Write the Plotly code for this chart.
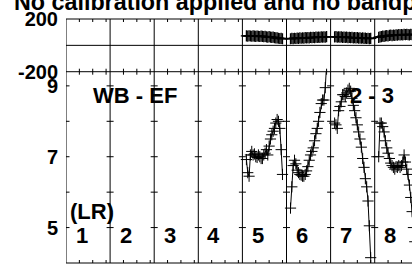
import plotly.graph_objects as go

# ---------------- data ----------------
channels = list(range(3, 31))          # channels plotted in each IF
n_chan_span = 33                        # channel span of one IF panel
if_labels = ["1", "2", "3", "4", "5", "6", "7", "8"]

amp_if5 = [6.92, 6.55, 6.45, 7.05, 7.15, 7.05, 7.08, 7.00, 6.98, 7.05, 7.00, 6.95, 6.95, 7.05,
           7.10, 7.20, 7.05, 7.30, 7.50, 7.62, 7.72, 7.80, 7.95, 8.05, 8.00, 7.80, 7.20, 6.50]
amp_if6 = [5.55, 6.15, 6.75, 6.90, 6.80, 6.62, 6.55, 6.50, 6.48, 6.45, 6.45, 6.50, 6.60, 6.72,
           6.90, 7.05, 7.15, 7.25, 7.45, 7.65, 7.80, 8.00, 8.25, 8.50, 8.60, 8.60, 8.95, 9.60]
amp_if7 = [7.95, 7.90, 7.80, 8.30, 8.42, 8.55, 8.75, 8.75, 8.70, 8.80, 8.88, 8.93, 8.85, 8.65,
           8.45, 8.30, 8.10, 7.90, 7.70, 7.50, 7.27, 6.95, 6.70, 6.38, 6.15, 5.75, 5.05, 4.15]
amp_if8 = [7.00, 7.95, 7.95, 7.85, 7.70, 7.45, 7.25, 7.10, 6.95, 6.82, 6.75, 6.70, 6.65, 6.72,
           6.70, 6.75, 6.70, 6.75, 6.85, 7.05, 6.85, 6.65, 6.50, 6.20, 5.85, 5.45, 5.00, 4.60]

ph_if5 = [72, 70, 73, 71, 69, 72, 70, 68, 71, 69, 67, 70, 68, 66,
          68, 65, 63, 66, 62, 60, 62, 58, 56, 57, 54, 52, 53, 50]
ph_if6 = [50, 53, 51, 54, 52, 55, 53, 56, 54, 57, 55, 58, 56, 59,
          57, 60, 58, 61, 59, 62, 60, 63, 61, 64, 62, 65, 63, 66]
ph_if7 = [64, 66, 63, 65, 62, 64, 61, 63, 60, 62, 59, 61, 58, 60,
          57, 59, 56, 58, 55, 57, 54, 56, 53, 55, 52, 54, 51, 53]
ph_if8 = [60, 64, 66, 70, 68, 72, 74, 71, 75, 77, 74, 78, 76, 80,
          78, 81, 79, 82, 80, 83, 81, 84, 82, 80, 83, 81, 84, 82]

amp_ticks = [5, 7, 9]
amp_minor = [5, 6, 7, 8, 9]
phase_ticks = [-200, 200]
chan_ticks = [10, 20, 30]

title_text = "No calibration applied and no bandpass applied"
baseline_text = "WB - EF"
baseline2_text = "2 - 3"
pol_text = "(LR)"

amp_data = {5: amp_if5, 6: amp_if6, 7: amp_if7, 8: amp_if8}
ph_data = {5: ph_if5, 6: ph_if6, 7: ph_if7, 8: ph_if8}

# ---------------- layout geometry ----------------
W, H = 412, 264
ML, MR, MT, MB = 66, 0, 19, 1
PW, PH = W - ML - MR, H - MT - MB
px_per_unit = 44.1 / n_chan_span
x_max = PW / px_per_unit
div = 0.784           # paper y of divider between phase and amplitude panels
AMP_RANGE = [4.0, 9.4]
PH_RANGE = [-200, 200]
FONT = "Liberation Sans"

def py(ypx):           # pixel y -> paper y
    return (H - MB - ypx) / PH

def pdx(px):           # pixel length -> x units
    return px / px_per_unit

fig = go.Figure()

mk = dict(symbol="cross-thin", size=8, line=dict(width=1, color="black"), color="black")
mk_ph = dict(symbol="cross-thin", size=8, line=dict(width=1.3, color="black"), color="black")

# phase (connected across IFs)
px_all, py_all = [], []
for k in [5, 6, 7, 8]:
    for c, v in zip(channels, ph_data[k]):
        px_all.append((k - 1) * n_chan_span + c)
        py_all.append(v)
fig.add_trace(go.Scatter(x=px_all, y=py_all, xaxis="x", yaxis="y2", mode="lines+markers",
                         line=dict(color="black", width=1), marker=mk_ph, showlegend=False))

# amplitude, one trace per IF
for k in [5, 6, 7, 8]:
    xs = [(k - 1) * n_chan_span + c for c in channels]
    fig.add_trace(go.Scatter(x=xs, y=amp_data[k], xaxis="x", yaxis="y", mode="lines+markers",
                             line=dict(color="black", width=1), marker=mk, showlegend=False))

shapes = []
lc = "black"
for yp in [0, div, 1]:
    shapes.append(dict(type="line", xref="paper", yref="paper", x0=0, x1=1, y0=yp, y1=yp,
                       line=dict(color=lc, width=1)))
shapes.append(dict(type="line", xref="paper", yref="y2", x0=0, x1=1, y0=0, y1=0,
                   line=dict(color=lc, width=1)))
for k in range(8):
    xb = k * n_chan_span
    shapes.append(dict(type="line", xref="x", yref="paper", x0=xb, x1=xb, y0=0, y1=1,
                       line=dict(color=lc, width=1)))
    for v in amp_minor:
        x0 = xb if k == 0 else xb - pdx(3.5)
        shapes.append(dict(type="line", xref="x", yref="y", x0=x0, x1=xb + pdx(3.5), y0=v, y1=v,
                           line=dict(color=lc, width=1)))
    for c in chan_ticks:
        xc = xb + c
        t = 3.0 / PH
        for (a, b) in [(1 - t, 1), (div - t, div + t), (0, t)]:
            shapes.append(dict(type="line", xref="x", yref="paper", x0=xc, x1=xc, y0=a, y1=b,
                               line=dict(color=lc, width=1)))

annots = []
bold = dict(family=FONT, color="black", weight="bold")
annots.append(dict(text=title_text, xref="paper", yref="paper", x=(11.5 - ML) / PW, y=py(17),
                   xanchor="left", yanchor="bottom", showarrow=False, font=dict(size=23.3, **bold)))
annots.append(dict(text=baseline_text, xref="paper", yref="paper", x=(135 - ML) / PW, y=py(96),
                   xanchor="center", yanchor="middle", showarrow=False, font=dict(size=22, **bold)))
annots.append(dict(text=baseline2_text, xref="paper", yref="paper", x=(371.5 - ML) / PW, y=py(96),
                   xanchor="center", yanchor="middle", showarrow=False, font=dict(size=22, **bold)))
annots.append(dict(text=pol_text, xref="paper", yref="paper", x=(91.5 - ML) / PW, y=py(212),
                   xanchor="center", yanchor="middle", showarrow=False, font=dict(size=22, **bold)))
for k, lab in enumerate(if_labels):
    annots.append(dict(text=lab, xref="x", yref="paper", x=k * n_chan_span + pdx(15.5), y=py(235),
                       xanchor="center", yanchor="middle", showarrow=False, font=dict(size=22, **bold)))

fig.update_layout(
    width=W, height=H, autosize=False,
    margin=dict(l=ML, r=MR, t=MT, b=MB, pad=0, autoexpand=False),
    paper_bgcolor="white", plot_bgcolor="white", hovermode=False,
    shapes=shapes, annotations=annots,
    xaxis=dict(range=[0, x_max], showgrid=False, zeroline=False, showline=False,
               showticklabels=False, ticks="", anchor="y", fixedrange=True, automargin=False),
    yaxis=dict(domain=[0, div], range=AMP_RANGE, showgrid=False, zeroline=False, showline=False,
               tickvals=amp_ticks, ticktext=[str(v) for v in amp_ticks], ticks="", automargin=False,
               ticklabelstandoff=7, tickfont=dict(size=20, **bold), anchor="x", fixedrange=True),
    yaxis2=dict(domain=[div, 1], range=PH_RANGE, showgrid=False, zeroline=False, showline=False,
                tickvals=phase_ticks, ticktext=["-200", "200"], ticks="", automargin=False,
                ticklabelstandoff=7, tickfont=dict(size=20, **bold), anchor="x", fixedrange=True),
)

fig.write_html("out.html", config={"displayModeBar": False, "staticPlot": True},
               post_script="document.body.style.margin='0';document.body.style.overflow='hidden';")
